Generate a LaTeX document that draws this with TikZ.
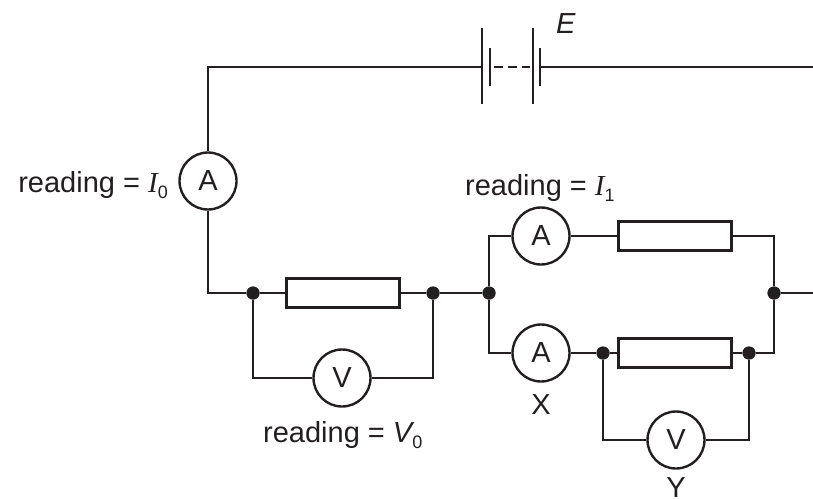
\documentclass[tikz,border=0pt]{standalone}
\usepackage{fontspec}
\setmainfont{Liberation Sans}
\newfontfamily\serifit{Liberation Serif}
\definecolor{ink}{RGB}{35,31,32}
\newcommand{\sub}[1]{\raisebox{-6pt}{\fontsize{18}{18}\selectfont #1}}
\begin{document}
\begin{tikzpicture}[x=1pt,y=-1pt,
  wire/.style={line width=2.9pt, draw=ink},
  meter/.style={circle, draw=ink, line width=2.4pt, minimum size=57pt, inner sep=0pt, fill=white, text=ink, font=\fontsize{29}{29}\selectfont},
  res/.style={rectangle, draw=ink, line width=2.4pt, minimum width=113pt, minimum height=29pt, inner sep=0pt, fill=white},
  jdot/.style={circle, fill=ink, minimum size=13pt, inner sep=0pt},
  lbl/.style={text=ink, font=\fontsize{29}{29}\selectfont, inner sep=0pt}]
\useasboundingbox (0,0) rectangle (813,498);
% coordinates
\coordinate (tl) at (208,67);
\coordinate (tr) at (813,67);
\coordinate (bl) at (208,293);
\coordinate (out) at (813,293);
\coordinate (b1) at (482,67);
\coordinate (b2) at (540,67);
% battery plates
\draw[wire] (482,28) -- (482,104);
\draw[wire] (490,48) -- (490,86);
\draw[wire] (533,28) -- (533,104);
\draw[wire] (540,48) -- (540,86);
\draw[wire, dash pattern=on 9pt off 5pt] (494,67) -- (530,67);
\node[lbl, anchor=base west] (E) at (556,33) {\itshape E};
% nodes
\node[meter] (A0) at (208,181) {A};
\node[res] (R0) at (343,293) {};
\node[jdot] (j1) at (253,293) {};
\node[jdot] (j2) at (433,293) {};
\node[jdot] (j3) at (489,293) {};
\node[jdot] (j4) at (774,293) {};
\node[meter] (V0) at (342,378) {V};
\coordinate (v0l) at (253,378);
\coordinate (v0r) at (433,378);
\coordinate (t3) at (489,236);
\coordinate (d3) at (489,353);
\coordinate (t4) at (774,236);
\coordinate (d4) at (774,353);
\node[meter] (A1) at (541,236) {A};
\node[res] (R1) at (675,236) {};
\node[meter] (A2) at (541,353) {A};
\node[jdot] (j5) at (603,353) {};
\node[jdot] (j6) at (749,353) {};
\node[res] (R2) at (675,353) {};
\coordinate (vyl) at (603,440);
\coordinate (vyr) at (749,440);
\node[meter] (VY) at (676,440) {V};
% wires
\draw[wire] (b1) -- (tl) -- (A0) -- (bl) -- (j1) -- (R0) -- (j2) -- (j3);
\draw[wire] (b2) -- (tr);
\draw[wire] (j1) -- (v0l) -- (V0) -- (v0r) -- (j2);
\draw[wire] (j3) -- (t3) -- (A1) -- (R1) -- (t4) -- (j4) -- (out);
\draw[wire] (j3) -- (d3) -- (A2) -- (j5) -- (R2) -- (j6) -- (d4) -- (j4);
\draw[wire] (j5) -- (vyl) -- (VY) -- (vyr) -- (j6);
% redraw dots on top
\foreach \n in {j1,j2,j3,j4,j5,j6} \node[jdot] at (\n) {};
% labels
\node[lbl, anchor=base east] (L0) at (168,192) {reading = {\serifit\itshape I}\sub{0}};
\node[lbl, anchor=base west] (L1) at (465,195) {reading = {\serifit\itshape I}\sub{1}};
\node[lbl, anchor=base west] (LV) at (263,442) {reading = {\itshape V}\sub{0}};
\node[lbl] (X) at (541,405) {X};
\node[lbl] (Y) at (676,488) {Y};
\end{tikzpicture}
\end{document}
